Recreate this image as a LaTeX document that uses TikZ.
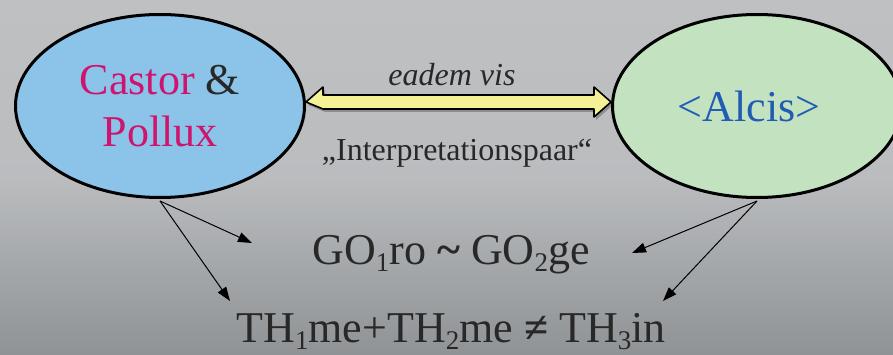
\documentclass[tikz,border=0pt]{standalone}
\usepackage{fontspec}
\setmainfont{Liberation Serif}
\usetikzlibrary{shapes.geometric,calc,arrows.meta}
\definecolor{bgtop}{RGB}{190,192,194}
\definecolor{bgbot}{RGB}{143,147,150}
\definecolor{castorfill}{RGB}{140,195,233}
\definecolor{alcisfill}{RGB}{194,226,192}
\definecolor{pairfill}{RGB}{245,242,150}
\definecolor{magent}{RGB}{206,20,110}
\definecolor{alcisblue}{RGB}{32,92,180}
\definecolor{ink}{RGB}{40,40,40}
\newcommand\lowr[1]{\raisebox{-7pt}{\fontsize{27}{27}\selectfont #1}}
\tikzset{
  blob/.style={ellipse,draw=black,line width=3pt,minimum width=289pt,minimum height=183pt,inner sep=0pt,align=center},
  bigtext/.style={font=\fontsize{44}{52}\selectfont,text=ink},
  midtext/.style={font=\fontsize{32}{38}\selectfont,text=ink},
  pairarrow/.style={draw=black,line width=1.6pt,fill=pairfill},
  thin/.style={->,line width=1pt}
}
\begin{document}
\begin{tikzpicture}[x=1pt,y=1pt,line join=round,>={Triangle[length=14pt,width=10pt]}]
	\useasboundingbox (0,0) rectangle (893,354);
	\shade[top color=bgtop,bottom color=bgbot,middle color=bgtop!92!bgbot] (0,0) rectangle (893,354);
	% the two ellipses
	\node[blob,fill=castorfill,bigtext] (castor) at (160,248) {\textcolor{magent}{Castor} \&\\\textcolor{magent}{Pollux}};
	\node[blob,fill=alcisfill,bigtext,text=alcisblue] (alcis) at (757,248) {<Alcis>\hspace*{16pt}};
	% broad double arrow between them
	\path (castor.east) ++(0,4) coordinate (pl) (alcis.west) ++(0,4) coordinate (pr);
	\fill[black,opacity=0.25] ($(pl)+(2,-3)$) -- ++(17,15) -- ++(0,-8) -- ($(pr)+(-15,4)$) -- ++(0,8) -- ($(pr)+(2,-3)$) -- ++(-17,-15) -- ++(0,8) -- ($(pl)+(19,-10)$) -- cycle;
	\draw[pairarrow] (pl) -- ++(17,15) -- ++(0,-8) -- ($(pr)+(-17,7)$) -- ++(0,8) -- (pr) -- ++(-17,-15) -- ++(0,8) -- ($(pl)+(17,-7)$) -- cycle;
	\node[midtext,anchor=base] (vis) at (452,268) {\itshape eadem vis};
	\node[midtext,anchor=base] (interp) at (457,194) {„Interpretationspaar“};
	% formulas
	\node[bigtext,anchor=base] (gopair) at (451,90) {GO\lowr{1}ro \textbf{\textasciitilde} GO\lowr{2}ge};
	\node[bigtext,anchor=base] (thline) at (451,12) {TH\lowr{1}me+TH\lowr{2}me \textbf{≠} TH\lowr{3}in};
	% arrow ends
	\coordinate (a1) at (252,111);
	\coordinate (a2) at (230,53);
	\coordinate (b1) at (632,101);
	\coordinate (b2) at (663,53);
	\foreach \s/\e in {castor/a1,castor/a2,alcis/b1,alcis/b2}
	\draw[thin] ($(\s.south)+(0,-2)$) -- (\e);
\end{tikzpicture}
\end{document}
